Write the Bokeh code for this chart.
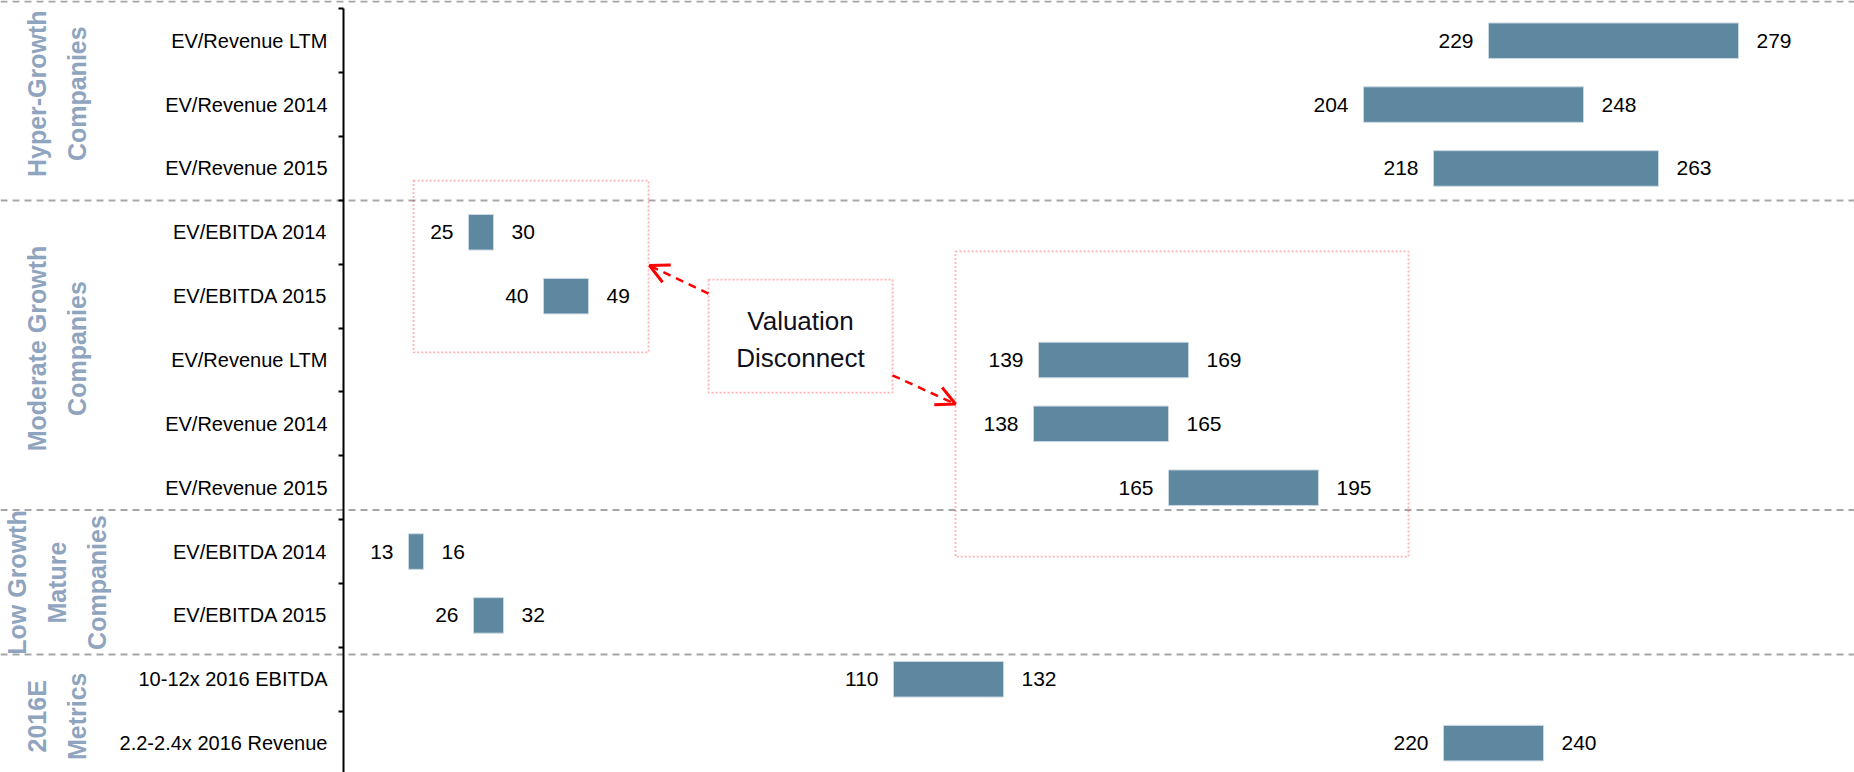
from math import pi

from bokeh.core.properties import value
from bokeh.embed import file_html
from bokeh.models import (Arrow, BoxAnnotation, ColumnDataSource, FixedTicker,
                          LinearAxis, OpenHead, Range1d, Span)
from bokeh.plotting import figure
from bokeh.resources import INLINE

# --- data -------------------------------------------------------------------
metrics = [
    "EV/Revenue LTM", "EV/Revenue 2014", "EV/Revenue 2015",
    "EV/EBITDA 2014", "EV/EBITDA 2015", "EV/Revenue LTM", "EV/Revenue 2014", "EV/Revenue 2015",
    "EV/EBITDA 2014", "EV/EBITDA 2015",
    "10-12x 2016 EBITDA", "2.2-2.4x 2016 Revenue",
]
range_low = [229, 204, 218, 25, 40, 139, 138, 165, 13, 26, 110, 220]
range_high = [279, 248, 263, 30, 49, 169, 165, 195, 16, 32, 132, 240]

group_names = [
    "Hyper-Growth\nCompanies",
    "Moderate Growth\nCompanies",
    "Low Growth\nMature\nCompanies",
    "2016E\nMetrics",
]
callout_text = "Valuation\nDisconnect"

# --- layout helpers ----------------------------------------------------------
FONT = "Liberation Sans"
BAR_COLOR = "#5E87A0"
GROUP_COLOR = "#8FA4BE"
RED = "#FF0000"

rows = list(range(len(metrics)))
src = ColumnDataSource(dict(
    y=rows,
    low=range_low,
    high=range_high,
    low_s=[str(v) for v in range_low],
    high_s=[str(v) for v in range_high],
))

p = figure(
    width=1854, height=772,
    x_range=Range1d(-68.6, 302.2),
    y_range=Range1d(11.46, -0.63),
    x_axis_type=None, y_axis_type=None,
    output_backend="svg", toolbar_location=None,
    min_border=0, outline_line_color=None,
)
p.grid.visible = False
p.background_fill_color = "white"

# dashed separators between company groups
for loc in (-0.614, 2.502, 7.35, 9.613):
    p.add_layout(Span(location=loc, dimension="width", line_color="#A6A6A6",
                      line_dash="7 5", line_width=2, level="underlay"))

# vertical axis: line + boundary ticks
tick_axis = LinearAxis(
    fixed_location=0,
    ticker=FixedTicker(ticks=[r - 0.5 for r in range(len(metrics) + 1)]),
    bounds=(-0.5, len(metrics) - 0.5),
    axis_line_color="black", axis_line_width=2,
    major_tick_line_color="black", major_tick_line_width=2,
    major_tick_out=5, major_tick_in=0,
    minor_tick_line_color=None,
    major_label_text_color=None,
)
p.add_layout(tick_axis, "left")

# vertical axis: metric names centred on each row
label_axis = LinearAxis(
    fixed_location=0,
    ticker=FixedTicker(ticks=rows),
    major_label_overrides={r: m for r, m in zip(rows, metrics)},
    axis_line_color=None,
    major_tick_line_color=None, major_tick_out=0, major_tick_in=0,
    minor_tick_line_color=None,
    major_label_standoff=16,
    major_label_text_font=FONT,
    major_label_text_font_size="20px",
    major_label_text_color="black",
)
p.add_layout(label_axis, "left")

# range bars
p.hbar(y="y", left="low", right="high", height=0.556, source=src,
       fill_color=BAR_COLOR, line_color="#C9D8E2", line_width=1)

# end-point labels
p.text(x="low", y="y", text="low_s", source=src, x_offset=-15,
       text_align="right", text_baseline="middle",
       text_font=value(FONT), text_font_size="21px", text_color="black")
p.text(x="high", y="y", text="high_s", source=src, x_offset=18,
       text_align="left", text_baseline="middle",
       text_font=value(FONT), text_font_size="21px", text_color="black")

# rotated group headings
p.text(x=[-57.3] * 4, y=[0.83, 4.82, 8.485, 10.58], text=group_names,
       angle=pi / 2, text_align="center", text_baseline="middle",
       text_font=value(FONT), text_font_style="bold", text_font_size="25px",
       text_color=GROUP_COLOR, text_line_height=1.42)

# callout boxes
box_style = dict(line_color=RED, line_dash="2 2", line_width=1.8)
p.add_layout(BoxAnnotation(left=14.0, right=61.0, top=2.19, bottom=4.88,
                           fill_alpha=0, **box_style))
p.add_layout(BoxAnnotation(left=122.4, right=213.0, top=3.30, bottom=8.08,
                           fill_alpha=0, **box_style))
p.add_layout(BoxAnnotation(left=73.0, right=109.8, top=3.74, bottom=5.51,
                           fill_color="white", fill_alpha=1, **box_style))
callout = p.text(x=[91.4], y=[4.68], text=[callout_text], text_align="center",
                 text_baseline="middle", text_font=value(FONT),
                 text_font_size="26px", text_color="#101020",
                 text_line_height=1.23)
callout.level = "overlay"

# arrows from the callout to both boxes
for xs, ys, xe, ye in ((73.0, 3.96, 61.2, 3.52), (109.8, 5.24, 122.4, 5.69)):
    p.add_layout(Arrow(
        end=OpenHead(size=19, line_color=RED, line_width=3),
        x_start=xs, y_start=ys, x_end=xe, y_end=ye,
        line_color=RED, line_width=2.5, line_dash="8 6",
    ))

open("out.html", "w").write(file_html(p, INLINE))
